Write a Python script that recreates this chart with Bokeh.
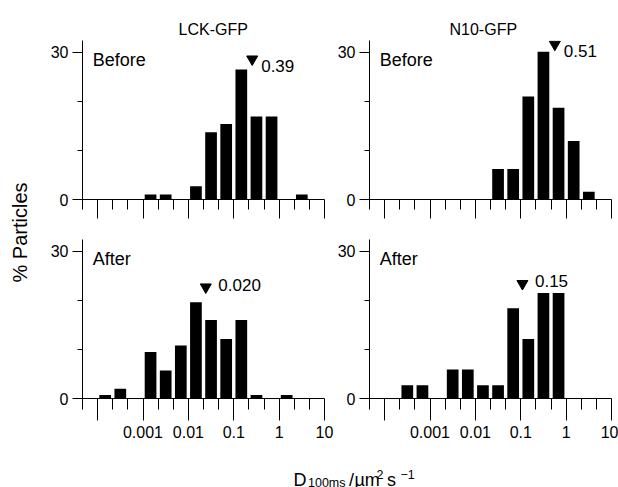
import numpy as np
from bokeh.plotting import figure
from bokeh.layouts import row, column
from bokeh.models import Range1d, FixedTicker, Label, CustomLabelingPolicy
from bokeh.embed import file_html
from bokeh.resources import INLINE

# ---------------- data ----------------
# 1/3-decade histogram bins, given by log10 of their lower edge (D in um^2/s)
bin_lo_log10 = [-13/3, -4, -11/3, -10/3, -3, -8/3, -7/3, -2,
                -5/3, -4/3, -1, -2/3, -1/3, 0, 1/3, 2/3]

lck_before = [0, 0, 0, 0, 1.0, 1.0, 0, 2.7, 13.7, 15.4, 26.5, 16.9, 16.9, 0, 1.0, 0]
n10_before = [0, 0, 0, 0, 0, 0, 0, 0, 6.2, 6.2, 21.0, 30.1, 18.7, 11.9, 1.6, 0]
lck_after = [0, 0.7, 2.0, 0, 9.5, 5.7, 10.8, 19.6, 16.0, 12.1, 16.0, 0.7, 0, 0.7, 0, 0]
n10_after = [0, 0, 2.7, 2.7, 0, 5.9, 5.9, 2.7, 2.7, 18.4, 12.1, 21.5, 21.5, 0, 0, 0]

constructs = ["LCK-GFP", "N10-GFP"]
conditions = ["Before", "After"]

# median arrows: label, position of arrow along D axis, height of arrow (% particles)
median_labels = ["0.39", "0.51", "0.020", "0.15"]
arrow_D = [0.255, 0.564, 0.0242, 0.109]
arrow_pct = [28.6, 31.6, 22.7, 23.4]

decade_ticks = [-4, -3, -2, -1, 0, 1]
decade_labels = ["", "0.001", "0.01", "0.1", "1", "10"]
y_major = [0, 30]
y_minor = [10, 20]

FONT = "Liberation Sans"
X0, X1 = -13/3, 1
Y0, Y1 = 0, 32.4
BOTTOM_ROW_BORDER = 62

HIDE_ALL = CustomLabelingPolicy(code="""
for (const i of indices) { indices.unset(i) }
return indices
""")


def panel(vals, construct, cond, med, aD, apct, top, left):
    p = figure(frame_width=242, frame_height=159,
               x_range=Range1d(X0, X1), y_range=Range1d(Y0, Y1),
               output_backend="svg", toolbar_location=None,
               min_border_left=44 if left else 34,
               min_border_right=10 if left else 7,
               min_border_top=40 if top else 14,
               min_border_bottom=26 if top else BOTTOM_ROW_BORDER)
    p.outline_line_color = None
    p.grid.visible = False
    p.background_fill_color = "white"
    p.border_fill_color = "white"

    centres = [b + 1/6 for b in bin_lo_log10]
    p.vbar(x=centres, width=0.258, top=vals, bottom=0,
           fill_color="black", line_color=None)

    xa = p.xaxis[0]
    thirds = [k / 3 for k in range(-13, 4) if k % 3 != 0]
    xa.ticker = FixedTicker(ticks=decade_ticks, minor_ticks=thirds)
    xa.major_label_overrides = dict(zip(decade_ticks, decade_labels))
    xa.major_tick_in = 0
    xa.minor_tick_in = 0
    xa.major_tick_out = 19 if top else 22
    xa.minor_tick_out = 10 if top else 11
    xa.axis_line_color = "black"
    xa.major_tick_line_color = "black"
    xa.minor_tick_line_color = "black"
    xa.major_label_text_font = FONT
    xa.major_label_text_color = "black"
    if top:
        xa.major_label_text_font_size = "2px"
        xa.major_label_standoff = 0
        xa.major_label_policy = HIDE_ALL
    else:
        xa.major_label_text_font_size = "16px"
        xa.major_label_standoff = 5

    ya = p.yaxis[0]
    ya.ticker = FixedTicker(ticks=y_major, minor_ticks=y_minor)
    ya.major_tick_in = 0
    ya.minor_tick_in = 0
    ya.major_tick_out = 10
    ya.minor_tick_out = 5
    ya.axis_line_color = "black"
    ya.major_tick_line_color = "black"
    ya.minor_tick_line_color = "black"
    ya.major_label_text_font = FONT
    ya.major_label_text_font_size = "16px"
    ya.major_label_text_color = "black"
    ya.major_label_standoff = 4

    # median arrow + value
    ax = float(np.log10(aD))
    p.scatter(x=[ax], y=[apct], marker="inverted_triangle", size=11,
              fill_color="black", line_color="black")
    p.add_layout(Label(x=ax, y=apct, text=med, x_offset=9 if top else 12.5,
                       y_offset=-7 if top else 2.5,
                       text_font=FONT, text_font_size="17px", text_color="black",
                       text_baseline="alphabetic", text_align="left"))
    # condition
    p.add_layout(Label(x=-4.11, y=28.5, text=cond, text_font=FONT,
                       text_font_size="18px", text_color="black",
                       text_baseline="alphabetic", text_align="left"))
    if top:
        p.title.text = construct
        p.title.align = "left"
        p.title.offset = 96 if left else 80
        p.title.standoff = 6
        p.title.text_font = FONT
        p.title.text_font_size = "16px"
        p.title.text_font_style = "normal"
        p.title.text_color = "black"
    return p


tl = panel(lck_before, constructs[0], conditions[0], median_labels[0], arrow_D[0], arrow_pct[0], True, True)
tr = panel(n10_before, constructs[1], conditions[0], median_labels[1], arrow_D[1], arrow_pct[1], True, False)
bl = panel(lck_after, constructs[0], conditions[1], median_labels[2], arrow_D[2], arrow_pct[2], False, True)
br = panel(n10_after, constructs[1], conditions[1], median_labels[3], arrow_D[3], arrow_pct[3], False, False)


def blank(w, h, xr, yr):
    f = figure(frame_width=w, frame_height=h, x_range=Range1d(*xr), y_range=Range1d(*yr),
               output_backend="svg", toolbar_location=None,
               x_axis_location=None, y_axis_location=None,
               min_border=0, min_border_left=0, min_border_right=0,
               min_border_top=0, min_border_bottom=0)
    f.outline_line_color = None
    f.grid.visible = False
    return f


grid_h = 40 + 159 + 26 + 14 + 159 + BOTTOM_ROW_BORDER   # 460

# y label column (page coordinates)
ylab = blank(38, grid_h, (0, 38), (grid_h, 0))
ylab.add_layout(Label(x=19, y=232, text="% Particles", angle=np.pi / 2,
                      text_font=FONT, text_font_size="20px", text_color="black",
                      text_align="center", text_baseline="alphabetic"))

# x label row (page coordinates)
xlab = blank(617, 487 - grid_h, (0, 617), (487, grid_h))
pieces = [  # text, left x, baseline y, size
    ("D", 293, 479.5, "18px"),
    ("100ms", 307.5, 482, "12.5px"),
    ("/", 348.5, 479.5, "18px"),
    ("\u00b5m", 354, 479.5, "18px"),
    ("2", 376, 474, "12.5px"),
    ("s", 386.5, 479.5, "18px"),
    ("\u22121", 400, 474, "12.5px"),
]
for t, x, y, s in pieces:
    xlab.add_layout(Label(x=x, y=y, text=t, text_font=FONT, text_font_size=s,
                          text_color="black", text_align="left",
                          text_baseline="alphabetic"))

grid = column(row(tl, tr), row(bl, br))
layout = column(row(ylab, grid), xlab)

open("out.html", "w").write(file_html(layout, INLINE))
